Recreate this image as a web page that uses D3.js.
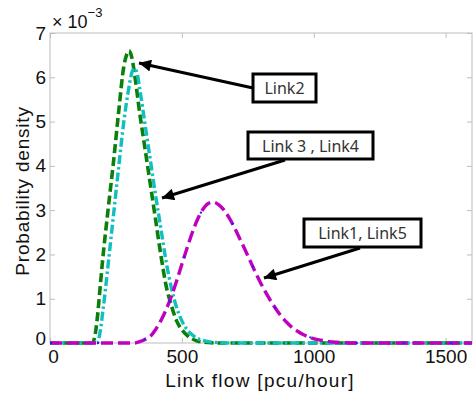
<!DOCTYPE html>
<html><head><meta charset="utf-8">
<script src="https://cdn.jsdelivr.net/npm/d3@7"></script>
<style>body{margin:0;background:#fff}svg{display:block}</style>
</head><body>
<svg id="chart" width="474" height="394"></svg>
<script>
// ---- data (y values in units of 1e-3) ----
const xTicks = [0, 500, 1000, 1500];
const yTicks = [0, 1, 2, 3, 4, 5, 6, 7];

const link2X = [0, 160, 170, 180, 190, 200, 220, 240, 260, 280, 290, 300, 310, 320, 340, 360, 380, 400, 420, 440, 460, 480, 500, 520, 540, 560, 580, 600, 650, 1600];
const link2Y = [0, 0, 0.15, 0.6, 1.25, 1.9, 3.0, 4.05, 5.2, 6.25, 6.5, 6.6, 6.45, 6.1, 5.2, 4.4, 3.6, 2.8, 2.0, 1.3, 0.85, 0.5, 0.3, 0.17, 0.09, 0.04, 0.02, 0.01, 0, 0];

const link34X = [0, 178, 190, 200, 210, 220, 240, 260, 280, 300, 310, 320, 330, 340, 360, 380, 400, 420, 440, 460, 480, 500, 520, 540, 560, 580, 600, 640, 680, 1600];
const link34Y = [0, 0, 0.25, 0.7, 1.2, 1.75, 2.85, 3.95, 5.0, 5.8, 6.1, 6.2, 6.1, 5.75, 4.95, 4.15, 3.35, 2.6, 1.85, 1.25, 0.8, 0.5, 0.3, 0.18, 0.1, 0.06, 0.03, 0.01, 0, 0];

const link15X = [0, 320, 340, 360, 380, 400, 420, 440, 460, 480, 500, 520, 540, 560, 580, 600, 620, 640, 660, 680, 700, 720, 740, 760, 780, 800, 820, 840, 860, 880, 900, 920, 940, 960, 980, 1000, 1020, 1040, 1060, 1080, 1100, 1150, 1600];
const link15Y = [0, 0, 0.03, 0.08, 0.15, 0.3, 0.5, 0.75, 1.05, 1.4, 1.78, 2.15, 2.5, 2.8, 3.02, 3.15, 3.18, 3.12, 3.0, 2.82, 2.6, 2.35, 2.1, 1.84, 1.58, 1.34, 1.12, 0.92, 0.74, 0.58, 0.45, 0.34, 0.26, 0.19, 0.14, 0.1, 0.07, 0.05, 0.03, 0.02, 0.01, 0, 0];

const labels = ["Link2", "Link 3 , Link4", "Link1, Link5"];

// ---- layout ----
const svg = d3.select("#chart");
const L = 50, R = 472, T = 33, B = 343;
const x = d3.scaleLinear().domain([0, 1600]).range([L, R]);
const y = d3.scaleLinear().domain([0, 7]).range([B, T]);
const FONT = "'Liberation Sans', Arial, sans-serif";

// axes box + ticks (inward, all four sides)
svg.append("rect").attr("x", L).attr("y", T).attr("width", R - L).attr("height", B - T)
  .attr("fill", "none").attr("stroke", "#bdbdbd").attr("stroke-width", 1);

const xb = svg.append("g").attr("transform", `translate(0,${B})`)
  .call(d3.axisBottom(x).tickValues(xTicks).tickSizeInner(-5).tickSizeOuter(0).tickPadding(7).tickFormat(d3.format("d")));
const xt = svg.append("g").attr("transform", `translate(0,${T})`)
  .call(d3.axisTop(x).tickValues(xTicks).tickSizeInner(-5).tickSizeOuter(0).tickFormat(""));
const yl = svg.append("g").attr("transform", `translate(${L},0)`)
  .call(d3.axisLeft(y).tickValues(yTicks).tickSizeInner(-5).tickSizeOuter(0).tickPadding(4).tickFormat(d3.format("d")));
const yr = svg.append("g").attr("transform", `translate(${R},0)`)
  .call(d3.axisRight(y).tickValues(yTicks).tickSizeInner(-5).tickSizeOuter(0).tickFormat(""));
[xb, xt, yl, yr].forEach(a => {
  a.select(".domain").remove();
  a.selectAll(".tick line").attr("stroke", "#bdbdbd");
  a.selectAll("text").attr("font-family", FONT).attr("font-size", 19).attr("fill", "#111");
});
// keep the two corner zeros from colliding
xb.selectAll(".tick text").filter(d => d === 0).attr("dx", 3);
yl.selectAll(".tick text").filter(d => d === 0).attr("dy", "0.1em");

// curves
const line = d3.line().x(d => x(d[0])).y(d => y(d[1])).curve(d3.curveMonotoneX);
const zip = (a, b) => a.map((v, i) => [v, b[i]]);
const series = [
  { d: zip(link2X, link2Y), color: "#0a800a", dash: "9,4", w: 3.6 },
  { d: zip(link34X, link34Y), color: "#10bfbf", dash: "9,3,2.5,3", w: 3.4 },
  { d: zip(link15X, link15Y), color: "#c000c0", dash: "12,5", w: 3.4 },
  { d: zip(link15X, link15Y), color: "#2020ff", dash: "2,45", w: 2 }
];
svg.append("clipPath").attr("id", "clp").append("rect")
  .attr("x", L).attr("y", T - 10).attr("width", R - L).attr("height", B - T + 12);
svg.append("g").attr("clip-path", "url(#clp)").selectAll("path").data(series).join("path")
  .attr("d", s => line(s.d)).attr("fill", "none").attr("stroke", s => s.color)
  .attr("stroke-width", s => s.w).attr("stroke-dasharray", s => s.dash);

// exponent label
const ex = svg.append("text").attr("x", 52).attr("y", 28).attr("font-family", FONT).attr("font-size", 18).attr("fill", "#111");
ex.append("tspan").text("× 10");
ex.append("tspan").attr("dy", -11).attr("font-size", 13).text("−3");

// axis titles
svg.append("text").attr("x", 260).attr("y", 387).attr("text-anchor", "middle")
  .attr("font-family", FONT).attr("font-size", 19).attr("letter-spacing", 1.3).attr("fill", "#111").text("Link flow [pcu/hour]");
svg.append("text").attr("transform", `translate(29,191) rotate(-90)`).attr("text-anchor", "middle")
  .attr("font-family", FONT).attr("font-size", 19).attr("letter-spacing", 0.8).attr("fill", "#111").text("Probability density");

// annotations
svg.append("defs").append("marker").attr("id", "ah").attr("viewBox", "0 0 10 10")
  .attr("refX", 10).attr("refY", 5).attr("markerWidth", 4.4).attr("markerHeight", 4)
  .attr("markerUnits", "strokeWidth").attr("orient", "auto")
  .append("path").attr("d", "M0,0L10,5L0,10z").attr("fill", "#000");

const ann = [
  { text: labels[0], box: [253, 74, 63, 28], from: [253, 88], to: [139, 63] },
  { text: labels[1], box: [248, 132, 125, 27], from: [285, 160], to: [162, 198] },
  { text: labels[2], box: [304, 219, 117, 28], from: [360, 248], to: [264, 278] }
];
ann.forEach(a => {
  svg.append("line").attr("x1", a.from[0]).attr("y1", a.from[1]).attr("x2", a.to[0]).attr("y2", a.to[1])
    .attr("stroke", "#000").attr("stroke-width", 3).attr("marker-end", "url(#ah)");
  svg.append("rect").attr("x", a.box[0]).attr("y", a.box[1]).attr("width", a.box[2]).attr("height", a.box[3])
    .attr("fill", "#fff").attr("stroke", "#000").attr("stroke-width", 3);
  svg.append("text").attr("x", a.box[0] + a.box[2] / 2).attr("y", a.box[1] + a.box[3] / 2 + 6)
    .attr("text-anchor", "middle").attr("font-family", "'Noto Sans', sans-serif").attr("font-size", 16)
    .attr("fill", "#333").text(a.text);
});
</script>
</body></html>
